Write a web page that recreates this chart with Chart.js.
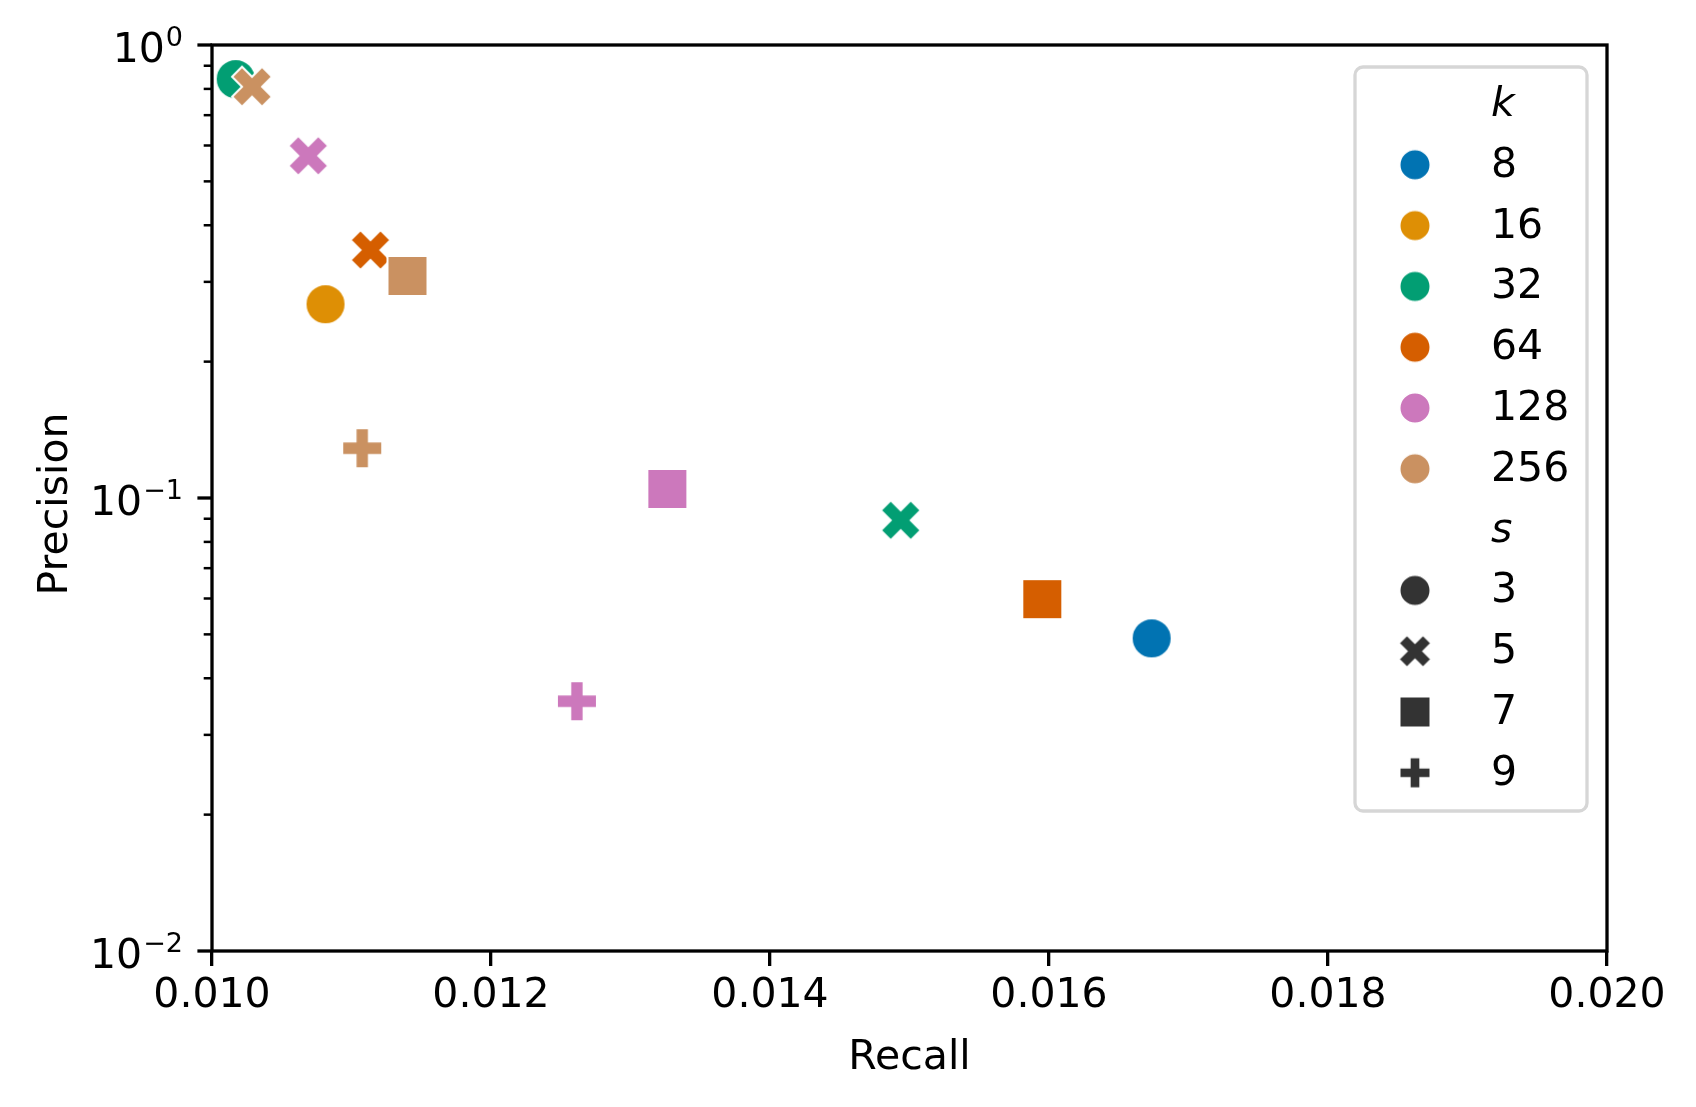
<!DOCTYPE html>
<html>
<head>
<meta charset="utf-8">
<script src="https://cdn.jsdelivr.net/npm/chart.js@4.4.0/dist/chart.umd.min.js"></script>
<style>
  html, body { margin: 0; padding: 0; background: #fff; }
</style>
</head>
<body>
<canvas id="pr-chart" width="1696" height="1107"></canvas>
<script>
// points, listed in drawing order
const kValues = [32, 256, 128, 64, 256, 16, 256, 128, 128, 32, 64, 8];
const sValues = [3, 5, 5, 5, 7, 3, 9, 7, 9, 5, 7, 3];
const recall = [0.01017, 0.010287, 0.01069, 0.011136, 0.011401, 0.010814, 0.011077, 0.013264, 0.012616, 0.014937, 0.015952, 0.016736];
const precision = [0.841, 0.809, 0.5695, 0.3527, 0.3091, 0.2678, 0.1288, 0.1047, 0.0356, 0.0893, 0.0598, 0.049];

const kLegend = [8, 16, 32, 64, 128, 256];
const kColors = ["#0173b2", "#de8f05", "#029e73", "#d55e00", "#cc78bc", "#ca9161"];
const sLegend = [3, 5, 7, 9];
const sShapes = ["circle", "x", "square", "plus"];

const xTicks = [0.010, 0.012, 0.014, 0.016, 0.018, 0.020];
const yMajorTicks = [0.01, 0.1, 1];
const yTickExponents = ["\u22122", "\u22121", "0"];
const yMinorTicks = [0.02, 0.03, 0.04, 0.05, 0.06, 0.07, 0.08, 0.09, 0.2, 0.3, 0.4, 0.5, 0.6, 0.7, 0.8, 0.9];

const FONT = '"DejaVu Sans", sans-serif';

// filled marker shapes, same paths as matplotlib 'P' and 'X'
const plusPath = [[-1, -3], [1, -3], [1, -1], [3, -1], [3, 1], [1, 1], [1, 3], [-1, 3], [-1, 1], [-3, 1], [-3, -1], [-1, -1]];
const xPath = [[-1, -2], [0, -1], [1, -2], [2, -1], [1, 0], [2, 1], [1, 2], [0, 1], [-1, 2], [-2, 1], [-1, 0], [-2, -1]];

const makeMarker = (shape, color, size, edge) => {
  const dim = Math.ceil(size + edge * 2 + 2);
  const c = document.createElement("canvas");
  c.width = dim;
  c.height = dim;
  const g = c.getContext("2d");
  g.translate(dim / 2, dim / 2);
  g.beginPath();
  if (shape === "circle") {
    g.arc(0, 0, size / 2, 0, Math.PI * 2);
  } else if (shape === "square") {
    g.rect(-size / 2, -size / 2, size, size);
  } else {
    const path = shape === "x" ? xPath : plusPath;
    const u = shape === "x" ? size / 4 : size / 6;
    path.forEach(([px, py], i) => (i ? g.lineTo(px * u, py * u) : g.moveTo(px * u, py * u)));
    g.closePath();
  }
  g.fillStyle = color;
  g.fill();
  if (edge > 0) {
    g.lineWidth = edge;
    g.strokeStyle = "#fff";
    g.stroke();
  }
  return c;
};

const pointMarkers = kValues.map((k, i) =>
  makeMarker(sShapes[sLegend.indexOf(sValues[i])], kColors[kLegend.indexOf(k)], 40, 2)
);

// axes frame, log ticks on y, axis titles and the legend
const decorations = {
  id: "decorations",
  afterDraw(chart) {
    const ctx = chart.ctx;
    const { left, right, top, bottom } = chart.chartArea;
    const yScale = chart.scales.y;
    ctx.save();

    ctx.strokeStyle = "#000";
    ctx.lineWidth = 3.3;
    ctx.strokeRect(left, top, right - left, bottom - top);

    ctx.lineWidth = 2.5;
    yMinorTicks.forEach((v) => {
      const py = yScale.getPixelForValue(v);
      ctx.beginPath();
      ctx.moveTo(left - 8.3, py);
      ctx.lineTo(left, py);
      ctx.stroke();
    });
    ctx.lineWidth = 3.3;
    ctx.fillStyle = "#000";
    yMajorTicks.forEach((v, i) => {
      const py = yScale.getPixelForValue(v);
      ctx.beginPath();
      ctx.moveTo(left - 14.6, py);
      ctx.lineTo(left, py);
      ctx.stroke();
      const rightEdge = left - 29;
      ctx.textAlign = "right";
      ctx.textBaseline = "alphabetic";
      ctx.font = "27px " + FONT;
      const expW = ctx.measureText(yTickExponents[i]).width;
      ctx.fillText(yTickExponents[i], rightEdge, py + 0.5);
      ctx.font = "41px " + FONT;
      ctx.fillText("10", rightEdge - expW - 1, py + 16.5);
    });

    ctx.font = "41px " + FONT;
    ctx.textAlign = "center";
    ctx.textBaseline = "alphabetic";
    ctx.fillText("Recall", (left + right) / 2, 1069);
    ctx.save();
    ctx.translate(66.5, (top + bottom) / 2 + 6);
    ctx.rotate(-Math.PI / 2);
    ctx.fillText("Precision", 0, 0);
    ctx.restore();

    // legend
    const bx = 1355, by = 67, bw = 232, bh = 744;
    ctx.beginPath();
    ctx.roundRect(bx, by, bw, bh, 8);
    ctx.fillStyle = "rgba(255,255,255,0.8)";
    ctx.fill();
    ctx.strokeStyle = "#d6d6d6";
    ctx.lineWidth = 3.3;
    ctx.stroke();

    const rowY = (i) => 104 + 60.8 * i;
    const markerX = 1415, textX = 1491;
    const rows = [{ title: "k" }]
      .concat(kLegend.map((k, i) => ({ label: String(k), marker: makeMarker("circle", kColors[i], 30.5, 1.5) })))
      .concat([{ title: "s" }])
      .concat(sLegend.map((s, i) => ({ label: String(s), marker: makeMarker(sShapes[i], "#333333", sShapes[i] === "x" ? 32 : 30.5, 1.5) })));
    ctx.textAlign = "left";
    ctx.fillStyle = "#000";
    rows.forEach((row, i) => {
      const cy = rowY(i);
      if (row.title) {
        ctx.font = "italic 41px " + FONT;
        ctx.fillText(row.title, textX, cy + 12);
      } else {
        ctx.drawImage(row.marker, markerX - row.marker.width / 2, cy - row.marker.height / 2);
        ctx.font = "41px " + FONT;
        ctx.fillText(row.label, textX, cy + 12);
      }
    });
    ctx.restore();
  },
};

Chart.defaults.font.family = FONT;
Chart.defaults.color = "#000";

const ctx = document.getElementById("pr-chart").getContext("2d");
new Chart(ctx, {
  type: "scatter",
  data: {
    datasets: [
      {
        data: recall.map((r, i) => ({ x: r, y: precision[i] })),
        pointStyle: pointMarkers,
        pointRadius: 20,
        pointHoverRadius: 20,
      },
    ],
  },
  options: {
    responsive: false,
    animation: false,
    devicePixelRatio: 1,
    events: [],
    layout: { padding: { top: 45, right: 89, left: 0, bottom: 0 } },
    plugins: {
      legend: { display: false },
      tooltip: { enabled: false },
    },
    scales: {
      x: {
        type: "linear",
        min: 0.01,
        max: 0.02,
        afterBuildTicks: (scale) => {
          scale.ticks = xTicks.map((v) => ({ value: v }));
        },
        afterFit: (scale) => {
          scale.height = 156;
        },
        ticks: {
          font: { size: 41 },
          color: "#000",
          padding: 6,
          maxRotation: 0,
          autoSkip: false,
          callback: (v) => Number(v).toFixed(3),
        },
        grid: {
          display: true,
          drawOnChartArea: false,
          drawTicks: true,
          tickLength: 15,
          lineWidth: 3.3,
          color: "#000",
        },
        border: { display: false },
      },
      y: {
        type: "logarithmic",
        min: 0.01,
        max: 1,
        afterFit: (scale) => {
          scale.width = 212;
        },
        ticks: { display: false },
        grid: { display: false },
        border: { display: false },
      },
    },
  },
  plugins: [decorations],
});
</script>
</body>
</html>
